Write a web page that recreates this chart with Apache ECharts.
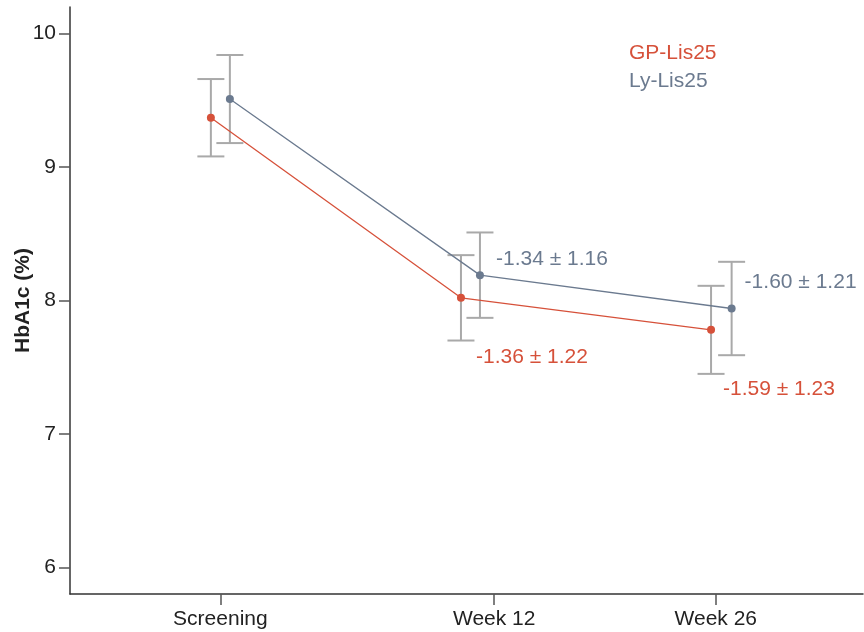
<!DOCTYPE html>
<html>
<head>
<meta charset="utf-8">
<script src="https://cdn.jsdelivr.net/npm/echarts@6/dist/echarts.min.js"></script>
<style>
  html, body { margin: 0; padding: 0; background: #fff; }
  #chart { width: 864px; height: 632px; }
</style>
</head>
<body>
<div id="chart"></div>
<script>
// time points (x in weeks) and tick labels
const categories = ['Screening', 'Week 12', 'Week 26'];
const tickWeeks = [-5.3, 12, 26];
const yTicks = [6, 7, 8, 9, 10];

// GP-Lis25
const gpWeeks = [-5.9, 9.9, 25.7];
const gpMean = [9.37, 8.02, 7.78];
const gpErr = [0.29, 0.32, 0.33];
const gpChange = ['', '-1.36 ± 1.22', '-1.59 ± 1.23'];

// Ly-Lis25
const lyWeeks = [-4.7, 11.1, 27.0];
const lyMean = [9.51, 8.19, 7.94];
const lyErr = [0.33, 0.32, 0.35];
const lyChange = ['', '-1.34 ± 1.16', '-1.60 ± 1.21'];

const font = 'Liberation Sans, Arial, Helvetica, sans-serif';
const red = '#d6513a';
const slate = '#6b7a8f';
const barGrey = '#a9a9a9';
const ink = '#222';

const chart = echarts.init(document.getElementById('chart'));

const errorBars = (name, weeks, mean, err) => ({
  type: 'custom',
  name: name + ' SD',
  z: 1,
  silent: true,
  encode: { x: 0, y: [1, 2] },
  data: weeks.map((w, i) => [w, mean[i] - err[i], mean[i] + err[i]]),
  renderItem: (params, api) => {
    const lo = api.coord([api.value(0), api.value(1)]);
    const hi = api.coord([api.value(0), api.value(2)]);
    const half = 13.5;
    const style = { stroke: barGrey, lineWidth: 2, fill: null };
    return {
      type: 'group',
      children: [
        { type: 'line', shape: { x1: hi[0], y1: hi[1], x2: lo[0], y2: lo[1] }, style },
        { type: 'line', shape: { x1: hi[0] - half, y1: hi[1], x2: hi[0] + half, y2: hi[1] }, style },
        { type: 'line', shape: { x1: lo[0] - half, y1: lo[1], x2: lo[0] + half, y2: lo[1] }, style }
      ]
    };
  }
});

const meanLine = (name, color, weeks, mean, change, offsets) => ({
  type: 'line',
  name: name,
  z: 3,
  symbol: 'circle',
  symbolSize: 8,
  color: color,
  lineStyle: { width: 1.3, color: color },
  itemStyle: { color: color },
  data: weeks.map((w, i) => ({
    value: [w, mean[i]],
    label: change[i] ? {
      show: true,
      position: 'right',
      formatter: change[i],
      offset: offsets[i],
      color: color,
      fontSize: 21,
      fontFamily: font
    } : { show: false }
  }))
});

const option = {
  backgroundColor: '#fff',
  animation: false,
  grid: { left: 70, right: 1, top: 7, bottom: 38, outerBoundsMode: 'none', containLabel: false },
  legend: {
    orient: 'vertical',
    left: 624,
    top: 43,
    padding: 0,
    itemGap: 7,
    icon: 'none',
    itemWidth: 0,
    itemHeight: 0,
    selectedMode: false,
    textStyle: { fontSize: 21, fontFamily: font, lineHeight: 21 },
    data: [
      { name: 'GP-Lis25', textStyle: { color: red } },
      { name: 'Ly-Lis25', textStyle: { color: slate } }
    ]
  },
  xAxis: {
    type: 'value',
    min: -14.8,
    max: 35.3,
    splitLine: { show: false },
    axisLine: { onZero: false, lineStyle: { color: '#333', width: 1.5 } },
    axisTick: { show: true, customValues: tickWeeks, length: 11, lineStyle: { color: '#555', width: 1.5 } },
    axisLabel: {
      customValues: tickWeeks,
      margin: 15,
      color: ink,
      fontSize: 21,
      fontFamily: font,
      formatter: v => {
        let best = 0;
        tickWeeks.forEach((t, i) => { if (Math.abs(t - v) < Math.abs(tickWeeks[best] - v)) best = i; });
        return categories[best];
      }
    }
  },
  yAxis: {
    type: 'value',
    min: 5.8,
    max: 10.2,
    name: 'HbA1c (%)',
    nameLocation: 'middle',
    nameGap: 36,
    nameMoveOverlap: false,
    nameTextStyle: { color: ink, fontSize: 21, fontWeight: 'bold', fontFamily: font },
    splitLine: { show: false },
    axisLine: { show: true, onZero: false, lineStyle: { color: '#333', width: 1.5 } },
    axisTick: { show: true, customValues: yTicks, length: 11, lineStyle: { color: '#555', width: 1.5 } },
    axisLabel: { customValues: yTicks, margin: 14, color: ink, fontSize: 21, fontFamily: font }
  },
  series: [
    errorBars('GP-Lis25', gpWeeks, gpMean, gpErr),
    errorBars('Ly-Lis25', lyWeeks, lyMean, lyErr),
    meanLine('GP-Lis25', red, gpWeeks, gpMean, gpChange, [null, [6, 59], [3, 59]]),
    meanLine('Ly-Lis25', slate, lyWeeks, lyMean, lyChange, [null, [7, -16], [4, -26]])
  ]
};

chart.setOption(option);
window.addEventListener('resize', () => chart.resize());
</script>
</body>
</html>
